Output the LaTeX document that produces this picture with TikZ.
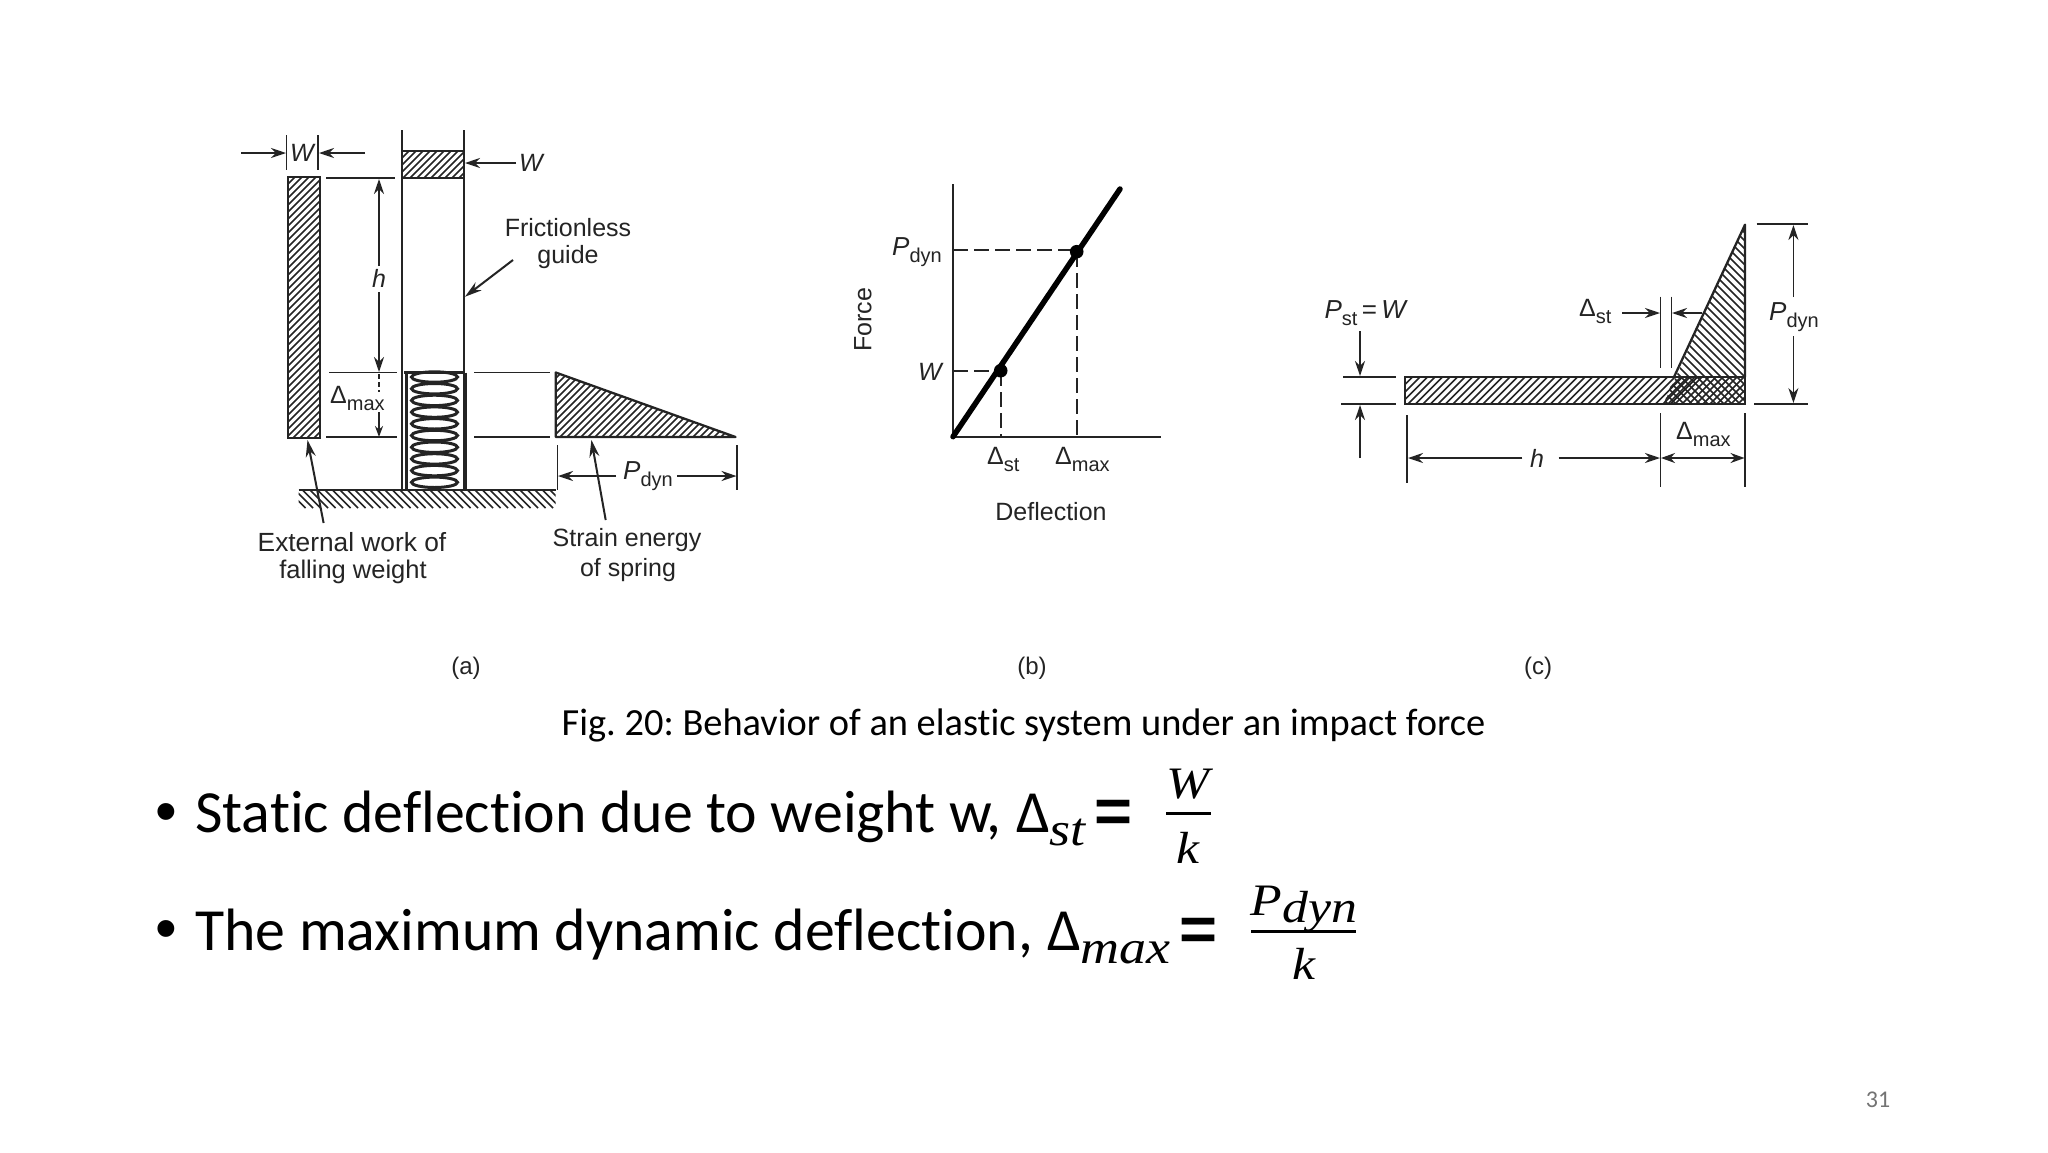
\documentclass[tikz,border=0pt]{standalone}
\usepackage{fontspec}
\setmainfont{Liberation Sans}
\newfontfamily\slidefont[Ligatures=NoCommon]{Carlito}
\newfontfamily\mathfont[FakeStretch=1.15]{Liberation Serif}
\usetikzlibrary{arrows.meta}
\definecolor{ink}{HTML}{242424}
\frenchspacing
\newcommand\fsz[1]{\fontsize{#1}{#1}\selectfont}
\newcommand\subtxt[1]{\raisebox{-7pt}{\fsz{20}#1}}
\newcommand\Pdyn{{\itshape P}\subtxt{dyn}}
\newcommand\Dmax{\fsz{25}Δ\subtxt{max}}
\newcommand\Dst{\fsz{25}Δ\subtxt{st}}
\newcommand\mi[1]{{\mathfont\itshape #1}}
\newcommand\hatchup[5]{%
  \pgfmathsetmacro\hh{#4-#3}\pgfmathsetmacro\hsec{#1+#5}\pgfmathsetmacro\hen{#2+\hh}%
  \foreach \c in {#1,\hsec,...,\hen} \draw[hatchline] (\c,#3) -- (\c-\hh,#4);}
\newcommand\hatchdn[5]{%
  \pgfmathsetmacro\hh{#4-#3}\pgfmathsetmacro\hsec{#1+#5}\pgfmathsetmacro\hen{#2+\hh}%
  \foreach \c in {#1,\hsec,...,\hen} \draw[hatchline] (\c-\hh,#3) -- (\c,#4);}
\tikzset{
  x=1pt,y=-1pt,
  line/.style={draw=ink,line width=2.3pt},
  thin line/.style={draw=ink,line width=1.9pt},
  hatchline/.style={draw=ink,line width=1.6pt},
  dim/.style={draw=ink,line width=1.8pt,-{Stealth[length=15pt,width=10pt]}},
  dimboth/.style={draw=ink,line width=1.8pt,{Stealth[length=14pt,width=10pt]}-{Stealth[length=14pt,width=10pt]}},
  lead/.style={draw=ink,line width=2pt,-{Stealth[length=17pt,width=10pt]}},
  dashline/.style={draw=ink,line width=2pt,dash pattern=on 15pt off 6pt},
  lab/.style={inner sep=0pt,text=ink,font=\fsz{25}},
  lbl/.style={inner sep=0pt,text=ink,font=\fsz{26},anchor=base west},
  slide/.style={inner sep=0pt,text=black,anchor=base west,font=\slidefont\fsz{59.8}},
  blt/.style={inner sep=0pt,text=black,anchor=base west,font=\fsz{62}},
  eqs/.style={inner sep=0pt,text=black,anchor=base west,font=\bfseries\fsz{62}},
  frac/.style={inner sep=0pt,anchor=base,font=\fsz{45}},
}
\begin{document}
\begin{tikzpicture}
\useasboundingbox (0,0) rectangle (2048,1152);
\fill[white] (0,0) rectangle (2048,1152);

% ---- (a)
\begin{scope}\clip (288,177) rectangle (320,438); \hatchup{288}{320}{177}{438}{7}\end{scope}
\draw[line] (288,177) rectangle (320,438);
\draw[thin line] (286.5,135) -- (286.5,170) (318,135) -- (318,170);
\draw[dim] (241,153) -- (286,153);
\draw[dim] (365,153) -- (319,153);
\node[lab,font=\fsz{25}\itshape] (wa) at (302,153) {W};
\begin{scope}\clip (402,151) rectangle (464,178); \hatchup{402}{464}{151}{178}{7}\end{scope}
\draw[line] (402,151) rectangle (464,178);
\draw[line] (402,130) -- (402,490) (464,130) -- (464,372);
\draw[dim] (516,163) -- (465,163);
\node[lab,font=\fsz{25}\itshape] (wg) at (531,163) {W};
\draw[thin line] (326,178) -- (395,178) (329,372.5) -- (397,372.5) (474,372.5) -- (550,372.5);
\draw[thin line] (326,437) -- (397,437) (474,437) -- (550,437);
\node[lab,font=\fsz{25}\itshape] (ha) at (379,278) {h};
\draw[dim] (379,266) -- (379,179);
\draw[dim] (379,292) -- (379,372);
\draw[thin line,dash pattern=on 5pt off 3pt] (379,374) -- (379,392);
\draw[dim,-{Stealth[length=11pt,width=8pt]}] (379,412) -- (379,437);
\node[lbl] (da) at (330,403) {\Dmax};
\draw[line] (406.5,372.5) -- (406.5,490);
\draw[line,line width=3.2pt] (465,372.5) -- (465,490);
\foreach \yy in {377,388.7,400.4,412.1,423.8,435.5,447.2,458.9,470.6,482.3}
  \draw[line,line width=3pt] (434.5,\yy) ellipse [x radius=23,y radius=5.2];
\draw[line] (404,372.5) -- (465,372.5);
\begin{scope}\clip (298.6,490) rectangle (555.7,508); \hatchdn{298}{556}{490}{508}{7.5}\end{scope}
\draw[line] (298.6,490) -- (555.7,490);
\begin{scope}\clip (555.7,372.5) -- (735.5,437) -- (555.7,437) -- cycle; \hatchup{555}{736}{372}{437}{7}\end{scope}
\draw[line,line join=round] (555.7,372.5) -- (735.5,437) -- (555.7,437) -- cycle;
\draw[thin line] (557.5,445) -- (557.5,490) (737,445) -- (737,490);
\draw[dim] (616,476) -- (558,476);
\draw[dim] (677,476) -- (736.5,476);
\node[lbl] (pa) at (623,479) {\Pdyn};
\draw[lead] (323.6,523) -- (307.5,440);
\draw[lead] (605.7,520) -- (591.4,440);
\draw[lead] (513,260) -- (465,296.7);
\node[lab] (f1) at (568,228) {Frictionless};
\node[lab] (f2) at (568,257) {guide};
\node[lab,font=\fsz{26.3}] (e1) at (352,542.5) {External work of};
\node[lab,font=\fsz{25.5}] (e2) at (353,571.5) {falling weight};
\node[lab] (s1) at (627,540.5) {Strain energy};
\node[lab] (s2) at (628,570) {of spring};
\node[lab,font=\fsz{24}] (capa) at (466,668) {(a)};

% ---- (b)
\draw[line] (952.7,184) -- (952.7,436.7) -- (1160.7,436.7);
\draw[dashline] (953,249.5) -- (1076,249.5);
\draw[dashline] (953,370.7) -- (1000,370.7);
\draw[dashline] (1077,252) -- (1077,436);
\draw[dashline] (1001,371) -- (1001,436);
\draw[draw=black,line width=5.5pt,line cap=round] (953,436.7) -- (1120,189);
\fill[black] (1076.7,251.7) circle (6.8) (1000.7,370.7) circle (6.8);
\node[lbl] (pb) at (892,255) {\Pdyn};
\node[lab,font=\fsz{25}\itshape] (wb) at (930,372) {W};
\node[lab,rotate=90] (fo) at (863,320) {Force};
\node[lbl] (db1) at (987,464) {\Dst};
\node[lbl] (db2) at (1055,464) {\Dmax};
\node[lab] (de) at (1051,512) {Deflection};
\node[lab,font=\fsz{24}] (capb) at (1032,668) {(b)};

% ---- (c)
\begin{scope}\clip (1405,377) rectangle (1745,404); \hatchup{1405}{1674}{377}{404}{7.5}\end{scope}
\begin{scope}\clip (1745,224.7) -- (1663.6,404) -- (1745,404) -- cycle; \hatchdn{1500}{1745}{224}{404}{8}\end{scope}
\begin{scope}\clip (1674,377) -- (1663.6,404) -- (1745,404) -- (1745,377) -- cycle; \hatchup{1660}{1745}{377}{404}{7}\end{scope}
\draw[line] (1405,377) rectangle (1745,404);
\draw[line,line join=round] (1674,377) -- (1745,224.7) -- (1745,377);
\draw[thin line] (1660.5,296.7) -- (1660.5,368) (1671.5,296.7) -- (1671.5,368);
\draw[dim] (1622,313) -- (1660,313);
\draw[dim] (1701.5,313) -- (1672,313);
\node[lbl] (dc1) at (1579,316) {\Dst};
\draw[thin line] (1756.6,224) -- (1808,224) (1754,404) -- (1808,404);
\draw[dim] (1793.4,297) -- (1793.4,225);
\draw[dim] (1793.4,336) -- (1793.4,403);
\node[lbl] (pc) at (1769,320) {\Pdyn};
\node[lbl] (pst) at (1324.4,318) {{\itshape P}\subtxt{st}\,=\,{\itshape W}};
\draw[thin line] (1343,377) -- (1396,377) (1341,404) -- (1396,404);
\draw[dim] (1360,331) -- (1360,376);
\draw[dim] (1360,458) -- (1360,405);
\draw[thin line] (1407,415) -- (1407,483) (1660.5,413) -- (1660.5,487) (1745,413) -- (1745,487);
\draw[dim] (1522.4,458) -- (1408,458);
\draw[dim] (1558.6,458) -- (1660,458);
\draw[dimboth] (1661,458) -- (1744.5,458);
\node[lab,font=\fsz{25}\itshape] (hc) at (1537,458) {h};
\node[lbl] (dc2) at (1676,439) {\Dmax};
\node[lab,font=\fsz{24}] (capc) at (1538,668) {(c)};

% ---- caption and bullets
\node[inner sep=0pt,font=\slidefont\fsz{38.4},anchor=base] (cap) at (1023.5,735) {Fig. 20: Behavior of an elastic system under an impact force};
\node[blt] (b1) at (155,832) {•};
\node[slide] (t1) at (195,832) {Static deflection due to weight w,};
\node[slide] (d1) at (1016,832) {Δ};
\node[inner sep=0pt,anchor=base west,font=\fsz{47}] (s1m) at (1049,845) {\mi{st}};
\node[eqs] (eq1) at (1094,832) {\scalebox{1.05}[1]{=}};
\node[frac] (w1) at (1188,798) {\mi{W}};
\draw[draw=black,line width=3pt] (1166,813.5) -- (1211,813.5);
\node[frac] (k1) at (1188,863) {\mi{k}};
\node[blt] (b2) at (155,949) {•};
\node[slide] (t2) at (195,950) {The maximum dynamic deflection,};
\node[slide] (d2) at (1047,950) {Δ};
\node[inner sep=0pt,anchor=base west,font=\fsz{47}] (s2m) at (1080,963) {\mi{max}};
\node[eqs] (eq2) at (1179,950) {\scalebox{1.05}[1]{=}};
\node[frac] (p2) at (1304,915) {\mi{P}\raisebox{-7pt}{\mi{dyn}}};
\draw[draw=black,line width=3pt] (1251,931.5) -- (1356,931.5);
\node[frac] (k2) at (1304,979) {\mi{k}};
\node[inner sep=0pt,text=black!55,font=\slidefont\fsz{24}] (pg) at (1878,1100) {31};
\end{tikzpicture}
\end{document}
